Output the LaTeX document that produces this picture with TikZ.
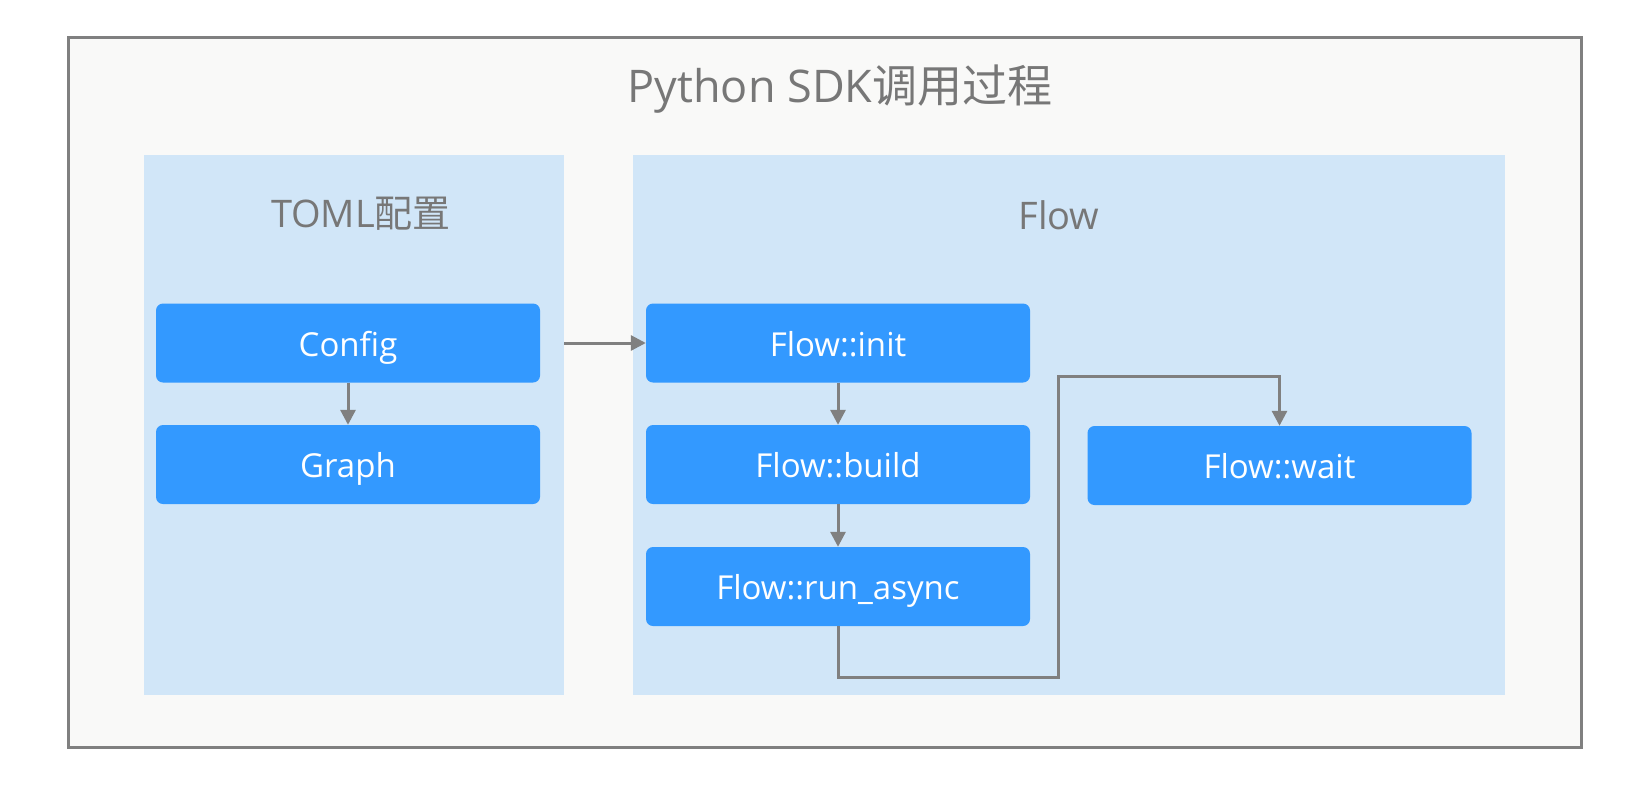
\documentclass[tikz,border=0pt]{standalone}
\usepackage{fontspec}
\setmainfont{Open Sans}
\newfontfamily\cjk{Noto Sans CJK SC}
\usetikzlibrary{arrows.meta}
\definecolor{frameline}{HTML}{808080}
\definecolor{framefill}{HTML}{F9F9F8}
\definecolor{panelfill}{HTML}{D1E6F8}
\definecolor{boxfill}{HTML}{3399FF}
\definecolor{labelgray}{HTML}{777777}
\tikzset{
  panel/.style={fill=panelfill, minimum width=#1, minimum height=540pt, inner sep=0pt},
  stepbox/.style={fill=boxfill, rounded corners=7pt, minimum width=384pt, minimum height=79pt,
    inner sep=0pt, text height=26pt, text depth=0pt, text=white, font=\fontsize{33}{39}\selectfont},
  header/.style={text=labelgray, font=\fontsize{38}{45}\selectfont},
  link/.style={draw=frameline, line width=3pt, -{Triangle[length=15pt,width=15pt]}}
}
\begin{document}
\begin{tikzpicture}[x=1pt,y=-1pt]
    \useasboundingbox (0,0) rectangle (1651,785);
    \draw[frameline, fill=framefill, line width=3pt] (68,37) rectangle (1581,747);
    \node (title) at (840,89) [text=labelgray, font=\fontsize{45}{54}\selectfont] {Python SDK{\cjk 调用过程}};
    \node[panel=420pt] (tomlpanel) at (354,425) {};
    \node[panel=872pt] (flowpanel) at (1069,425) {};
    \node[header] (tomlhead) at (361,214) {TOML{\cjk 配置}};
    \node[header] (flowhead) at (1059,215) {Flow};
    \node[stepbox] (config) at (348,343) {Config};
    \node[stepbox] (graph) at (348,464.5) {Graph};
    \node[stepbox] (init) at (838,343) {Flow::init};
    \node[stepbox] (build) at (838,464.5) {Flow::build};
    \node[stepbox] (run) at (838,586.5) {Flow::run\_async};
    \node[stepbox] (wait) at (1279.5,465.5) {Flow::wait};
    \coordinate (turnA) at (1058,677);
    \coordinate (turnB) at (1058,376);
    \draw[link] (config) -- (graph);
    \draw[link] (tomlpanel.east |- config) -- (init);
    \draw[link] (init) -- (build);
    \draw[link] (build) -- (run);
    \draw[link] (run.south) |- (turnA) -- (turnB) -| (wait.north);
\end{tikzpicture}
\end{document}
